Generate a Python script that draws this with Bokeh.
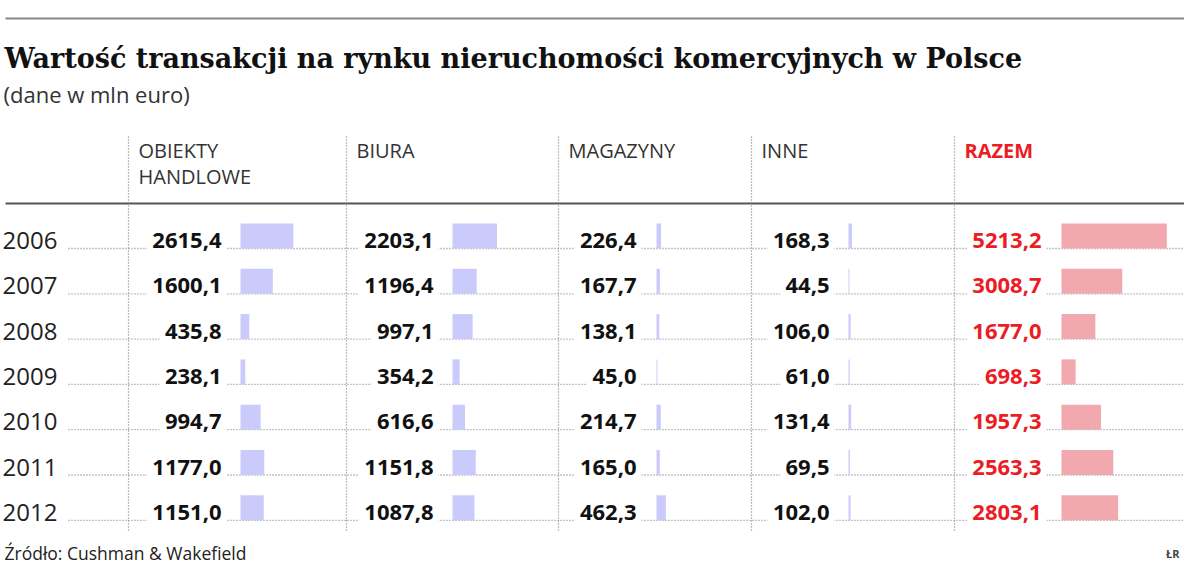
from bokeh.plotting import figure
from bokeh.models import Range1d, ColumnDataSource
from bokeh.core.properties import value
from bokeh.embed import file_html
from bokeh.resources import INLINE

# ---- data ----
years = ["2006", "2007", "2008", "2009", "2010", "2011", "2012"]
handlowe = [2615.4, 1600.1, 435.8, 238.1, 994.7, 1177.0, 1151.0]
biura = [2203.1, 1196.4, 997.1, 354.2, 616.6, 1151.8, 1087.8]
magazyny = [226.4, 167.7, 138.1, 45.0, 214.7, 165.0, 462.3]
inne = [168.3, 44.5, 106.0, 61.0, 131.4, 69.5, 102.0]
razem = [5213.2, 3008.7, 1677.0, 698.3, 1957.3, 2563.3, 2803.1]
headers = [["OBIEKTY", "HANDLOWE"], ["BIURA"], ["MAGAZYNY"], ["INNE"], ["RAZEM"]]
title = "Wartość transakcji na rynku nieruchomości komercyjnych w Polsce"
subtitle = "(dane w mln euro)"
source = "Źródło: Cushman & Wakefield"
series = [handlowe, biura, magazyny, inne, razem]

# ---- layout (pixels) ----
W, H = 1184, 568
FONT = "Open Sans"
NUM_PX = 22
vlines = [128, 346, 558, 751, 954]
bar_x0 = [240, 452, 656, 848, 1061]
num_right = [221, 433, 636, 829, 1041]
px_per_unit = 0.0202
row0, row_step = 248, 45.3
bar_h_px = 25
RED = "#ec1c24"

p = figure(width=W, height=H, x_range=Range1d(0, W), y_range=Range1d(H, 0),
           output_backend="svg", toolbar_location=None, min_border=0,
           x_axis_location=None, y_axis_location=None)
p.grid.visible = False
p.outline_line_color = None
p.background_fill_color = "white"

p.extra_y_ranges = {"rows": Range1d(start=(H - row0) / row_step, end=-row0 / row_step)}
for i, x0 in enumerate(bar_x0):
    p.extra_x_ranges["c%d" % i] = Range1d(start=-x0 / px_per_unit, end=(W - x0) / px_per_unit)

rows = list(range(len(years)))
px = 1.0 / row_step  # one pixel in row units


def num_label(v):
    return ("%.1f" % v).replace(".", ",")


def est_width(s, size):
    w = 0.0
    for ch in s:
        w += 0.29 if ch in ",." else 0.575
    return w * size


# top rule and header rule
p.segment(x0=[5], x1=[1185], y0=[18], y1=[18], line_color="#888888", line_width=2)
p.segment(x0=[5], x1=[1185], y0=[203], y1=[203], line_color="#555555", line_width=2)

# vertical dotted separators
p.segment(x0=vlines, x1=vlines, y0=[136] * 5, y1=[530] * 5,
          line_color="#7a7a7a", line_width=1.2, line_dash="1 2")

# row leader lines
p.segment(x0=[68] * len(rows), x1=[1185] * len(rows), y0=rows, y1=rows,
          y_range_name="rows", line_color="#8a8a8a", line_width=1.3, line_dash="1 2")

# white gaps in the leaders behind the numbers
for i, vals in enumerate(series):
    lefts, rights = [], []
    for v in vals:
        w = est_width(num_label(v), NUM_PX)
        lefts.append(num_right[i] - w - 5)
        rights.append(num_right[i] + 5)
    p.quad(left=lefts, right=rights, bottom=[r + 3 * px for r in rows],
           top=[r - 3 * px for r in rows], y_range_name="rows",
           fill_color="white", line_color=None)

# bars
bar_top = [r - bar_h_px * px for r in rows]
for i, vals in enumerate(series):
    color = "#f1a9af" if i == 4 else "#cacafb"
    src = ColumnDataSource(dict(left=[0] * len(vals), right=vals, bottom=rows, top=bar_top))
    p.quad(left="left", right="right", bottom="bottom", top="top", source=src,
           x_range_name="c%d" % i, y_range_name="rows", fill_color=color, line_color=None)

# year labels
p.text(x=[2] * len(rows), y=[r - 8 * px for r in rows], text=years, y_range_name="rows",
       text_font=value(FONT), text_font_size="24px", text_color="#222222",
       text_baseline="middle", text_align="left")

# numbers
for i, vals in enumerate(series):
    labels = [num_label(v) for v in vals]
    p.text(x=[num_right[i]] * len(rows), y=[r - 8 * px for r in rows], text=labels,
           y_range_name="rows",
           text_font=value(FONT), text_font_size="%dpx" % NUM_PX, text_font_style="bold",
           text_color=RED if i == 4 else "#111111",
           text_baseline="middle", text_align="right")

# column headers
for i, lines in enumerate(headers):
    for j, t in enumerate(lines):
        p.text(x=[vlines[i] + 10], y=[150 + 26 * j], text=[t],
               text_font=value(FONT), text_font_size="20px",
               text_font_style="bold" if i == 4 else "normal",
               text_color=RED if i == 4 else "#333333",
               text_baseline="middle", text_align="left")

# title, subtitle, source, credit
p.text(x=[4], y=[58], text=[title], text_font=value("DejaVu Serif"),
       text_font_size="27px", text_font_style="bold", text_color="#111111",
       text_baseline="middle")
p.text(x=[3], y=[93], text=[subtitle], text_font=value(FONT),
       text_font_size="22px", text_color="#333333", text_baseline="middle")
p.text(x=[4], y=[552], text=[source], text_font=value(FONT),
       text_font_size="17.5px", text_color="#222222", text_baseline="middle")
p.text(x=[1179], y=[553], text=["ŁR"], text_font=value(FONT),
       text_font_size="11px", text_font_style="bold", text_color="#444444",
       text_baseline="middle", text_align="right")

open("out.html", "w").write(file_html(p, INLINE))
